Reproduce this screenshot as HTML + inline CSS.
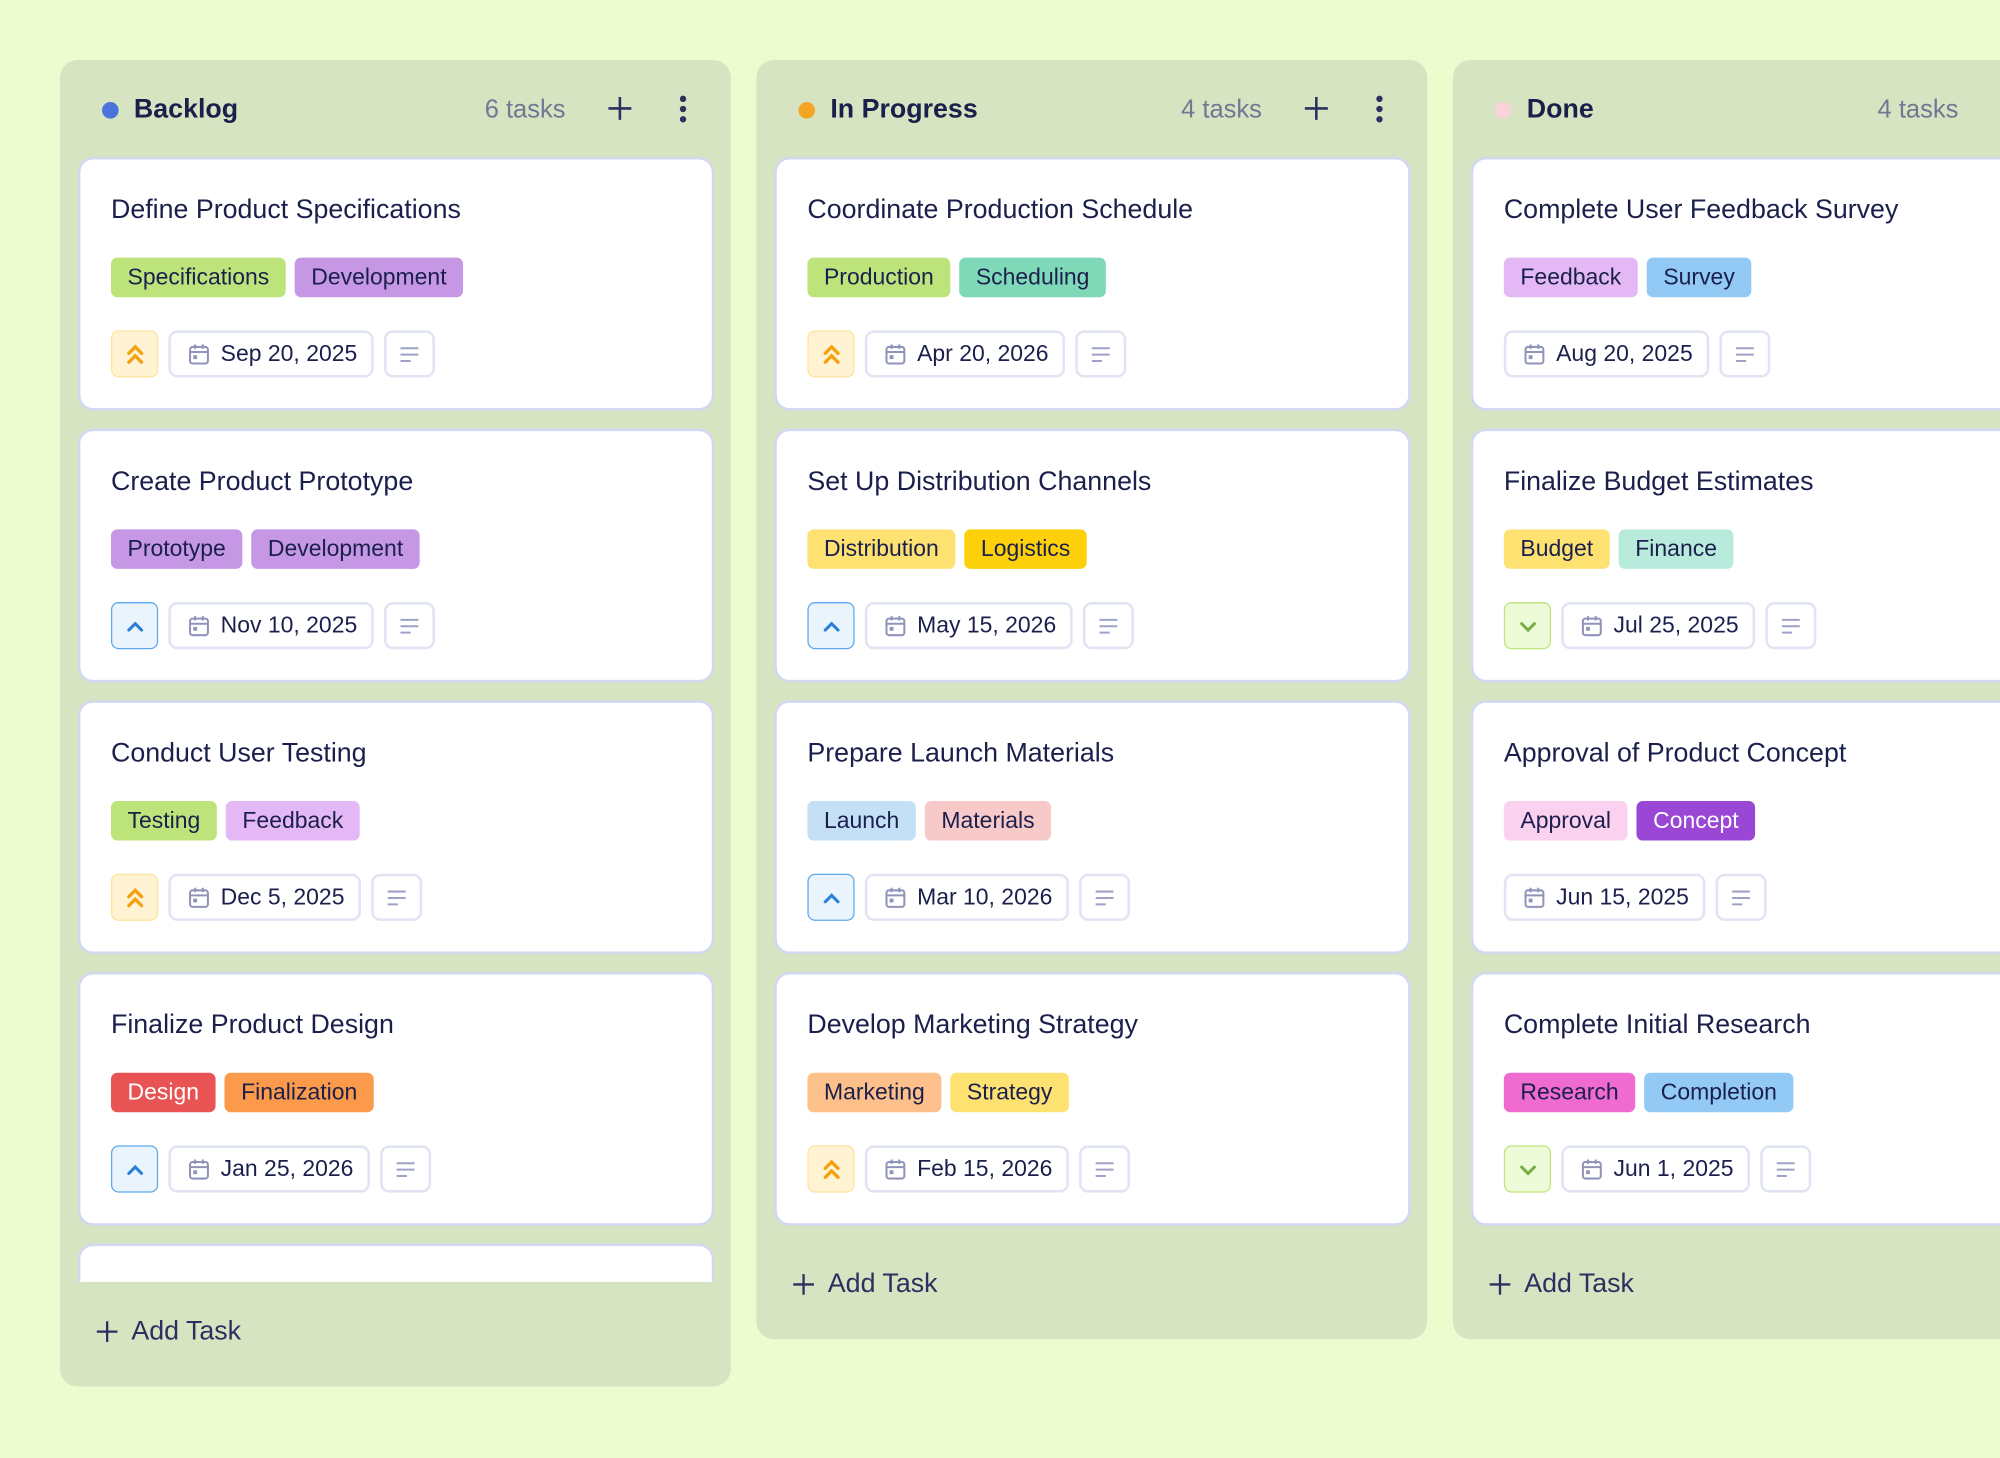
<!DOCTYPE html>
<html><head><meta charset="utf-8"><style>
*{box-sizing:border-box;margin:0;padding:0}
html,body{width:2000px;height:1458px;overflow:hidden;background:#ecfccf;font-family:"Liberation Sans",sans-serif;color:#1b1f4b}
#w{width:1568px;height:1143px;transform:scale(1.27551);transform-origin:0 0;position:relative}
.col{position:absolute;top:47px;width:526px;background:#d6e4c1;border-radius:14px;overflow:hidden}
.hd{position:absolute;top:0;left:0;right:0;height:76px}
.dot{position:absolute;left:33px;top:33px;width:13px;height:13px;border-radius:50%}
.ttl{position:absolute;left:58px;top:27px;font-size:21px;font-weight:bold;color:#1b1f4b}
.cnt{position:absolute;top:28px;font-size:20px;color:#717896}
.plus{position:absolute;top:28px;left:429px;width:20px;height:20px}
.menu{position:absolute;left:486px;top:28px;width:6px}
.menu i{display:block;width:5px;height:5px;border-radius:50%;background:#2b3060;margin-bottom:3px}
.list{position:absolute;left:14px;top:76px;width:499px;overflow:hidden}
.card{position:absolute;left:0;width:499px;height:199px;background:#fff;border:2px solid #d3d7f0;border-radius:12px}
.ct{position:absolute;left:24px;top:28px;font-size:21px;color:#1b1f4b;white-space:nowrap}
.tags{position:absolute;left:24px;top:77px;display:flex;gap:7px}
.tag{height:31px;line-height:31px;padding:0 13px;border-radius:5px;font-size:18px;color:#1b1f4b}
.ft{position:absolute;left:24px;top:134px;display:flex;gap:8px}
.pr{width:37px;height:37px;border-radius:6px;border:1.5px solid;display:flex;align-items:center;justify-content:center}
.dt{height:37px;border:2px solid #e1e4f3;border-radius:7px;display:flex;align-items:center;padding:0 11px 0 13px;font-size:18px;gap:8px;white-space:nowrap}
.nt{width:40px;height:37px;border:2px solid #e1e4f3;border-radius:7px;display:flex;align-items:center;justify-content:center}
.add{position:absolute;left:28px;font-size:21px;color:#2b3060;display:flex;align-items:center;gap:10px}
.u{background:#fff3d4;border-color:#fde39a}
.h{background:#eaf4fd;border-color:#5ea9ee}
.l{background:#eefbd8;border-color:#bde57a}
</style></head><body><div id="w">

<svg width="0" height="0" style="position:absolute"><defs>
<symbol id="cal" viewBox="0 0 18 18"><rect x="2" y="3" width="14" height="13" rx="2" fill="none" stroke="#8f94b8" stroke-width="1.6"/><line x1="2" y1="7" x2="16" y2="7" stroke="#8f94b8" stroke-width="1.6"/><line x1="6" y1="1" x2="6" y2="4.5" stroke="#8f94b8" stroke-width="1.6"/><line x1="12" y1="1" x2="12" y2="4.5" stroke="#8f94b8" stroke-width="1.6"/><rect x="4.5" y="9.5" width="3" height="3" fill="#8f94b8"/></symbol>
<symbol id="nt" viewBox="0 0 18 14"><g stroke="#9da2c6" stroke-width="1.6"><line x1="2" y1="2" x2="16" y2="2"/><line x1="2" y1="7" x2="16" y2="7"/><line x1="2" y1="12" x2="10" y2="12"/></g></symbol>
<symbol id="uu" viewBox="0 0 16 20"><g fill="none" stroke="#f5a00f" stroke-width="2.6" stroke-linecap="round"><polyline points="3,9 8,4 13,9"/><polyline points="3,16 8,11 13,16"/></g></symbol>
<symbol id="hh" viewBox="0 0 16 16"><polyline points="3,11 8,6 13,11" fill="none" stroke="#2a7fd8" stroke-width="2.4" stroke-linecap="round"/></symbol>
<symbol id="ll" viewBox="0 0 16 16"><polyline points="3,6 8,11 13,6" fill="none" stroke="#7aae47" stroke-width="2.4" stroke-linecap="round"/></symbol>
<symbol id="pl" viewBox="0 0 20 20"><g stroke="#2b3060" stroke-width="2"><line x1="10" y1="1" x2="10" y2="19"/><line x1="1" y1="10" x2="19" y2="10"/></g></symbol>
</defs></svg>

<!-- Backlog -->
<div class="col" style="left:47px;height:1040px">
<div class="hd"><div class="dot" style="background:#4a74dc"></div><div class="ttl">Backlog</div><div class="cnt" style="left:333px">6 tasks</div><svg class="plus"><use href="#pl"/></svg><div class="menu"><i></i><i></i><i></i></div></div>
<div class="list" style="height:882px">
<div class="card" style="top:0"><div class="ct">Define Product Specifications</div><div class="tags"><span class="tag" style="background:#bde47a">Specifications</span><span class="tag" style="background:#c597e4">Development</span></div><div class="ft"><div class="pr u"><svg width="16" height="20"><use href="#uu"/></svg></div><div class="dt"><svg width="18" height="18"><use href="#cal"/></svg>Sep 20, 2025</div><div class="nt"><svg width="18" height="14"><use href="#nt"/></svg></div></div></div>
<div class="card" style="top:213px"><div class="ct">Create Product Prototype</div><div class="tags"><span class="tag" style="background:#c597e4">Prototype</span><span class="tag" style="background:#c597e4">Development</span></div><div class="ft"><div class="pr h"><svg width="16" height="16"><use href="#hh"/></svg></div><div class="dt"><svg width="18" height="18"><use href="#cal"/></svg>Nov 10, 2025</div><div class="nt"><svg width="18" height="14"><use href="#nt"/></svg></div></div></div>
<div class="card" style="top:426px"><div class="ct">Conduct User Testing</div><div class="tags"><span class="tag" style="background:#bde47a">Testing</span><span class="tag" style="background:#e4b8f5">Feedback</span></div><div class="ft"><div class="pr u"><svg width="16" height="20"><use href="#uu"/></svg></div><div class="dt"><svg width="18" height="18"><use href="#cal"/></svg>Dec 5, 2025</div><div class="nt"><svg width="18" height="14"><use href="#nt"/></svg></div></div></div>
<div class="card" style="top:639px"><div class="ct">Finalize Product Design</div><div class="tags"><span class="tag" style="background:#e85454;color:#fff">Design</span><span class="tag" style="background:#fb9a4a">Finalization</span></div><div class="ft"><div class="pr h"><svg width="16" height="16"><use href="#hh"/></svg></div><div class="dt"><svg width="18" height="18"><use href="#cal"/></svg>Jan 25, 2026</div><div class="nt"><svg width="18" height="14"><use href="#nt"/></svg></div></div></div>
<div class="card" style="top:852px"></div>
</div>
<div class="add" style="top:985px"><svg width="18" height="18"><use href="#pl"/></svg>Add Task</div>
</div>

<!-- In Progress -->
<div class="col" style="left:593px;height:1003px">
<div class="hd"><div class="dot" style="background:#f5a524"></div><div class="ttl">In Progress</div><div class="cnt" style="left:333px">4 tasks</div><svg class="plus"><use href="#pl"/></svg><div class="menu"><i></i><i></i><i></i></div></div>
<div class="list" style="height:852px">
<div class="card" style="top:0"><div class="ct">Coordinate Production Schedule</div><div class="tags"><span class="tag" style="background:#bde47a">Production</span><span class="tag" style="background:#7fd9b9">Scheduling</span></div><div class="ft"><div class="pr u"><svg width="16" height="20"><use href="#uu"/></svg></div><div class="dt"><svg width="18" height="18"><use href="#cal"/></svg>Apr 20, 2026</div><div class="nt"><svg width="18" height="14"><use href="#nt"/></svg></div></div></div>
<div class="card" style="top:213px"><div class="ct">Set Up Distribution Channels</div><div class="tags"><span class="tag" style="background:#fde272">Distribution</span><span class="tag" style="background:#fcd00a">Logistics</span></div><div class="ft"><div class="pr h"><svg width="16" height="16"><use href="#hh"/></svg></div><div class="dt"><svg width="18" height="18"><use href="#cal"/></svg>May 15, 2026</div><div class="nt"><svg width="18" height="14"><use href="#nt"/></svg></div></div></div>
<div class="card" style="top:426px"><div class="ct">Prepare Launch Materials</div><div class="tags"><span class="tag" style="background:#c3e0f7">Launch</span><span class="tag" style="background:#f7c9c9">Materials</span></div><div class="ft"><div class="pr h"><svg width="16" height="16"><use href="#hh"/></svg></div><div class="dt"><svg width="18" height="18"><use href="#cal"/></svg>Mar 10, 2026</div><div class="nt"><svg width="18" height="14"><use href="#nt"/></svg></div></div></div>
<div class="card" style="top:639px"><div class="ct">Develop Marketing Strategy</div><div class="tags"><span class="tag" style="background:#fdc08a">Marketing</span><span class="tag" style="background:#fde272">Strategy</span></div><div class="ft"><div class="pr u"><svg width="16" height="20"><use href="#uu"/></svg></div><div class="dt"><svg width="18" height="18"><use href="#cal"/></svg>Feb 15, 2026</div><div class="nt"><svg width="18" height="14"><use href="#nt"/></svg></div></div></div>
</div>
<div class="add" style="top:948px"><svg width="18" height="18"><use href="#pl"/></svg>Add Task</div>
</div>

<!-- Done -->
<div class="col" style="left:1139px;height:1003px">
<div class="hd"><div class="dot" style="background:#f8d3da"></div><div class="ttl">Done</div><div class="cnt" style="left:333px">4 tasks</div></div>
<div class="list" style="height:852px">
<div class="card" style="top:0"><div class="ct">Complete User Feedback Survey</div><div class="tags"><span class="tag" style="background:#e4b8f5">Feedback</span><span class="tag" style="background:#93c9f5">Survey</span></div><div class="ft"><div class="dt"><svg width="18" height="18"><use href="#cal"/></svg>Aug 20, 2025</div><div class="nt"><svg width="18" height="14"><use href="#nt"/></svg></div></div></div>
<div class="card" style="top:213px"><div class="ct">Finalize Budget Estimates</div><div class="tags"><span class="tag" style="background:#fde272">Budget</span><span class="tag" style="background:#b9ebdd">Finance</span></div><div class="ft"><div class="pr l"><svg width="16" height="16"><use href="#ll"/></svg></div><div class="dt"><svg width="18" height="18"><use href="#cal"/></svg>Jul 25, 2025</div><div class="nt"><svg width="18" height="14"><use href="#nt"/></svg></div></div></div>
<div class="card" style="top:426px"><div class="ct">Approval of Product Concept</div><div class="tags"><span class="tag" style="background:#fad2ef">Approval</span><span class="tag" style="background:#9a47d6;color:#fff">Concept</span></div><div class="ft"><div class="dt"><svg width="18" height="18"><use href="#cal"/></svg>Jun 15, 2025</div><div class="nt"><svg width="18" height="14"><use href="#nt"/></svg></div></div></div>
<div class="card" style="top:639px"><div class="ct">Complete Initial Research</div><div class="tags"><span class="tag" style="background:#ef6bd0">Research</span><span class="tag" style="background:#93c9f5">Completion</span></div><div class="ft"><div class="pr l"><svg width="16" height="16"><use href="#ll"/></svg></div><div class="dt"><svg width="18" height="18"><use href="#cal"/></svg>Jun 1, 2025</div><div class="nt"><svg width="18" height="14"><use href="#nt"/></svg></div></div></div>
</div>
<div class="add" style="top:948px"><svg width="18" height="18"><use href="#pl"/></svg>Add Task</div>
</div>

</div></body></html>
